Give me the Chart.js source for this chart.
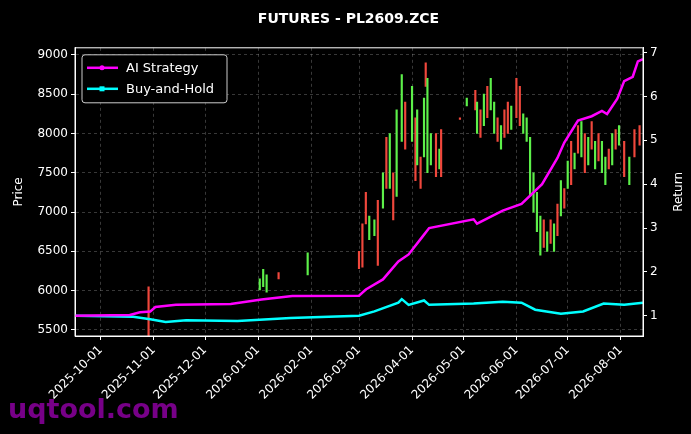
<!DOCTYPE html>
<html><head><meta charset="utf-8">
<script src="https://cdn.jsdelivr.net/npm/chart.js@4"></script>
<style>html,body{margin:0;background:#000}</style>
</head><body><canvas id="c" width="691" height="434"></canvas>
<script>
// candles: date, low, high, up(1)/down(0)
const candles = [
  ['2025-10-29',5420,6050,0],
  ['2026-01-02',6010,6150,1],['2026-01-04',6050,6270,1],['2026-01-06',5980,6200,1],
  ['2026-01-13',6150,6230,0],['2026-01-30',6200,6480,1],
  ['2026-03-01',6280,6500,0],['2026-03-03',6300,6850,0],['2026-03-05',6850,7250,0],
  ['2026-03-07',6650,6950,1],['2026-03-10',6700,6900,1],['2026-03-12',6320,7150,0],
  ['2026-03-15',7050,7500,1],['2026-03-17',7300,7950,0],['2026-03-19',7300,8000,1],
  ['2026-03-21',6900,7500,0],['2026-03-23',7200,8300,1],['2026-03-26',7900,8750,1],
  ['2026-03-28',7800,8400,0],['2026-04-01',7900,8600,1],['2026-04-03',7400,8200,0],
  ['2026-04-04',7600,8300,1],['2026-04-06',7300,7700,0],['2026-04-08',7700,8450,1],
  ['2026-04-09',8600,8900,0],['2026-04-10',7500,8700,1],['2026-04-12',7600,8000,1],
  ['2026-04-15',7450,8000,0],['2026-04-17',7550,7800,1],['2026-04-18',7450,8050,0],
  ['2026-04-29',8180,8200,0],['2026-05-03',8350,8450,1],['2026-05-08',8300,8550,0],
  ['2026-05-09',8000,8400,1],['2026-05-11',7950,8300,0],['2026-05-13',8100,8500,1],
  ['2026-05-15',8200,8600,0],['2026-05-17',8300,8700,1],['2026-05-19',8000,8400,1],
  ['2026-05-21',7900,8200,0],['2026-05-23',7800,8100,1],['2026-05-25',7950,8300,0],
  ['2026-05-27',8000,8400,0],['2026-05-29',8050,8350,1],['2026-06-01',8200,8700,0],
  ['2026-06-03',8100,8600,0],['2026-06-05',8000,8250,1],['2026-06-07',7900,8200,1],
  ['2026-06-09',7200,7950,1],['2026-06-11',7000,7500,1],['2026-06-13',6750,7250,1],
  ['2026-06-15',6450,6950,1],['2026-06-17',6550,6900,0],['2026-06-19',6500,6750,1],
  ['2026-06-21',6600,6900,0],['2026-06-23',6500,6850,1],['2026-06-25',6700,7100,0],
  ['2026-06-27',6950,7400,1],['2026-06-29',7050,7300,0],['2026-07-01',7300,7650,1],
  ['2026-07-03',7350,7900,0],['2026-07-05',7550,7750,1],['2026-07-07',7750,8100,0],
  ['2026-07-09',7700,8150,1],['2026-07-11',7500,8000,0],['2026-07-13',7600,7950,1],
  ['2026-07-15',7800,8150,0],['2026-07-17',7550,7900,1],['2026-07-19',7650,8000,0],
  ['2026-07-21',7500,7900,1],['2026-07-23',7350,7700,1],['2026-07-25',7550,7800,0],
  ['2026-07-27',7600,8000,1],['2026-07-29',7800,8050,0],['2026-07-31',7850,8100,1],
  ['2026-08-03',7450,7900,0],['2026-08-06',7350,7700,1],['2026-08-09',7700,8050,0],
  ['2026-08-12',7850,8100,0]
];
const aiDates = ['2025-09-16','2025-10-18','2025-10-24','2025-10-30','2025-11-02','2025-11-14','2025-12-16','2026-01-03','2026-01-21','2026-03-01','2026-03-05','2026-03-15','2026-03-24','2026-03-30','2026-04-07','2026-04-11','2026-05-07','2026-05-09','2026-05-24','2026-06-04','2026-06-16','2026-06-25','2026-06-29','2026-07-07','2026-07-15','2026-07-21','2026-07-24','2026-07-30','2026-08-03','2026-08-08','2026-08-11','2026-08-14'];
const aiValues = [1.0,1.02,1.08,1.1,1.2,1.25,1.27,1.37,1.45,1.46,1.6,1.83,2.24,2.4,2.8,3.0,3.2,3.1,3.4,3.55,4.0,4.6,4.95,5.45,5.55,5.67,5.6,5.95,6.35,6.45,6.8,6.85];
const bhDates = ['2025-09-16','2025-10-20','2025-10-30','2025-11-08','2025-11-20','2025-12-20','2026-01-20','2026-03-01','2026-03-10','2026-03-24','2026-03-26','2026-03-30','2026-04-08','2026-04-11','2026-05-07','2026-05-24','2026-06-04','2026-06-12','2026-06-27','2026-07-10','2026-07-22','2026-08-03','2026-08-14'];
const bhValues = [1.0,0.98,0.92,0.86,0.9,0.88,0.95,1.0,1.1,1.3,1.38,1.25,1.35,1.25,1.28,1.32,1.3,1.14,1.05,1.1,1.28,1.25,1.3];
const monthTicks = ['2025-10-01','2025-11-01','2025-12-01','2026-01-01','2026-02-01','2026-03-01','2026-04-01','2026-05-01','2026-06-01','2026-07-01','2026-08-01'];
const priceTicks = [5500,6000,6500,7000,7500,8000,8500,9000];
const returnTicks = [1,2,3,4,5,6,7];

const day = s => Date.UTC(+s.slice(0,4), +s.slice(5,7)-1, +s.slice(8,10)) / 86400000;
const fmt = d => new Date(d*86400000).toISOString().slice(0,10);
const green = '#5df04a', red = '#f0473c';
const gridC = 'rgba(160,160,160,0.35)';
const font = {family: 'DejaVu Sans', size: 12};

const overlay = {
  id: 'overlay',
  afterDraw(chart) {
    const ctx = chart.ctx, a = chart.chartArea;
    ctx.save();
    ctx.strokeStyle = '#fff'; ctx.lineWidth = 1;
    ctx.strokeRect(a.left, a.top, a.right - a.left, a.bottom - a.top);
    // legend
    const lx = a.left + 7, ly = a.top + 7;
    ctx.fillStyle = '#000'; ctx.strokeStyle = '#ccc';
    ctx.beginPath(); ctx.roundRect(lx, ly, 145, 48, 3); ctx.fill(); ctx.stroke();
    [['AI Strategy', '#ff00ff', 'circle'], ['Buy-and-Hold', '#00ffff', 'square']].forEach((it, i) => {
      const y = ly + 13 + i * 21;
      ctx.strokeStyle = it[1]; ctx.lineWidth = 2.5;
      ctx.beginPath(); ctx.moveTo(lx + 5, y); ctx.lineTo(lx + 36, y); ctx.stroke();
      ctx.fillStyle = it[1];
      if (it[2] == 'circle') { ctx.beginPath(); ctx.arc(lx + 20, y, 2.5, 0, 7); ctx.fill(); }
      else ctx.fillRect(lx + 17.5, y - 2.5, 5, 5);
      ctx.fillStyle = '#fff'; ctx.font = '13px "DejaVu Sans"'; ctx.textBaseline = 'middle';
      ctx.fillText(it[0], lx + 44, y + 1);
    });
    // right axis title, reading upward
    ctx.translate(a.right + 36, (a.top + a.bottom) / 2);
    ctx.rotate(-Math.PI / 2);
    ctx.fillStyle = '#fff'; ctx.font = '12px "DejaVu Sans"'; ctx.textAlign = 'center';
    ctx.fillText('Return', 0, 0);
    ctx.setTransform(chart.currentDevicePixelRatio, 0, 0, chart.currentDevicePixelRatio, 0, 0);
    ctx.textAlign = 'left';
    ctx.fillStyle = 'rgba(140,0,160,0.85)'; ctx.font = 'bold 27px "DejaVu Sans"'; ctx.textBaseline = 'alphabetic';
    ctx.fillText('uqtool.com', 8, 418);
    ctx.restore();
  }
};

new Chart(document.getElementById('c'), {
  type: 'bar',
  data: {
    datasets: [
      {
        type: 'line', label: 'AI Strategy', yAxisID: 'y2', order: 0,
        data: aiDates.map((d, i) => ({x: day(d), y: aiValues[i]})),
        borderColor: '#ff00ff', borderWidth: 2.5, pointRadius: 0, tension: 0
      },
      {
        type: 'line', label: 'Buy-and-Hold', yAxisID: 'y2', order: 0,
        data: bhDates.map((d, i) => ({x: day(d), y: bhValues[i]})),
        borderColor: '#00ffff', borderWidth: 2.5, pointRadius: 0, tension: 0
      },
      {
        label: 'Price', yAxisID: 'y', order: 1,
        data: candles.map(c => ({x: day(c[0]), y: [c[1], c[2]]})),
        backgroundColor: candles.map(c => c[3] ? green : red),
        barThickness: 1.5, grouped: false
      }
    ]
  },
  options: {
    responsive: false, animation: false,
    layout: {padding: {left: 8, right: 2, top: 0, bottom: 0}},
    plugins: {
      legend: {display: false}, tooltip: {enabled: false},
      title: {display: true, text: 'FUTURES - PL2609.ZCE', color: '#fff',
        font: {family: 'DejaVu Sans', size: 14, weight: 'bold'}, padding: {top: 11, bottom: 20}}
    },
    scales: {
      x: {
        type: 'linear', offset: false, min: day('2025-09-16'), max: day('2026-08-14'),
        afterBuildTicks: s => { s.ticks = monthTicks.map(m => ({value: day(m)})); },
        afterFit: s => { s.height = 98; },
        ticks: {color: '#fff', maxRotation: 45, minRotation: 45, callback: v => fmt(v), font},
        grid: {offset: false, color: gridC, tickColor: '#fff', tickLength: 4},
        border: {color: '#fff', dash: [3, 3]}
      },
      y: {
        position: 'left', min: 5423, max: 9090,
        afterBuildTicks: s => { s.ticks = priceTicks.map(v => ({value: v})); },
        afterFit: s => { s.width = 67; },
        title: {display: true, text: 'Price', color: '#fff', font},
        ticks: {color: '#fff', font, callback: v => String(v)},
        grid: {color: gridC, tickColor: '#fff', tickLength: 4},
        border: {color: '#fff', dash: [3, 3]}
      },
      y2: {
        position: 'right', min: 0.54, max: 7.11,
        afterBuildTicks: s => { s.ticks = returnTicks.map(v => ({value: v})); },
        afterFit: s => { s.width = 46; },
        ticks: {color: '#fff', font, callback: v => String(v)},
        grid: {drawOnChartArea: false, tickColor: '#fff', tickLength: 4},
        border: {color: '#fff'}
      }
    }
  },
  plugins: [overlay]
});
</script>
</body></html>
